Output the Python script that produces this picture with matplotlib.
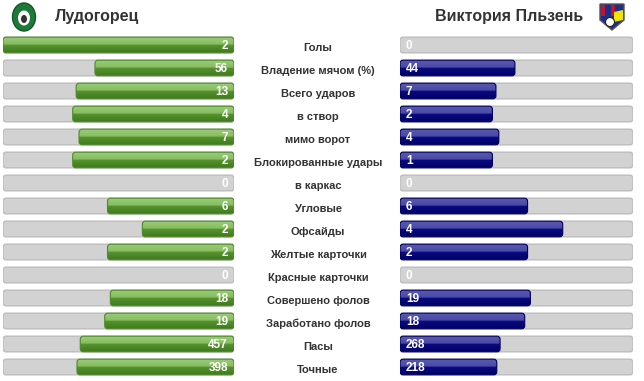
import numpy as np
import matplotlib
matplotlib.use("Agg")
import matplotlib.pyplot as plt
from matplotlib.patches import FancyBboxPatch, Ellipse, Polygon
from matplotlib.colors import LinearSegmentedColormap

plt.rcParams['font.family'] = ['Liberation Sans', 'DejaVu Sans']

home_team = "Лудогорец"
away_team = "Виктория Пльзень"

stats = ["Голы", "Владение мячом (%)", "Всего ударов", "в створ", "мимо ворот",
         "Блокированные удары", "в каркас", "Угловые", "Офсайды", "Желтые карточки",
         "Красные карточки", "Совершено фолов", "Заработано фолов", "Пасы", "Точные"]
home = [2, 56, 13, 4, 7, 2, 0, 6, 2, 2, 0, 18, 19, 457, 398]
away = [0, 44, 7, 2, 4, 1, 0, 6, 4, 2, 0, 19, 18, 268, 218]

W, H = 644, 381
ROW_PX = 23
FIRST_ROW = 45
BAR_H = 0.68
BASE = 0.095  # minimum visible share of a non-zero bar

green = LinearSegmentedColormap.from_list(
    "g", [(0, "#9ccb78"), (0.45, "#86bd5f"), (0.5, "#56922f"), (1, "#3f7a1c")])
blue = LinearSegmentedColormap.from_list(
    "b", [(0, "#5a5ab4"), (0.45, "#4a4aa6"), (0.5, "#0a0a80"), (1, "#000068")])

fig = plt.figure(figsize=(W / 100, H / 100), dpi=100)
fig.patch.set_facecolor("white")

n = len(stats)
top = (FIRST_ROW - ROW_PX / 2) / H
bot = (FIRST_ROW + (n - 0.5) * ROW_PX) / H
ax_h = bot - top


def side_axes(x0, x1, invert):
    ax = fig.add_axes([x0 / W, 1 - bot, (x1 - x0) / W, ax_h])
    ax.set_xlim(1, 0) if invert else ax.set_xlim(0, 1)
    ax.set_ylim(n - 0.5, -0.5)
    ax.axis("off")
    return ax


ax_l = side_axes(3, 234, True)
ax_r = side_axes(400, 633, False)


def rounded(ax, x, y, w, h, px_w, **kw):
    r = 3.0 / px_w
    ma = (3.0 / ROW_PX) / r
    p = FancyBboxPatch((x, y - h / 2), w, h,
                       boxstyle="round,pad=0,rounding_size=%f" % r,
                       mutation_aspect=ma, **kw)
    ax.add_patch(p)
    return p


grad = np.linspace(0, 1, 64).reshape(-1, 1)

for ax, vals, others, cmap, edge, px_w, left in [
        (ax_l, home, away, green, "#4c8a2a", 231, True),
        (ax_r, away, home, blue, "#00005a", 233, False)]:
    for i, (v, o) in enumerate(zip(vals, others)):
        rounded(ax, 0, i, 1, BAR_H, px_w, facecolor="#d2d2d2",
                edgecolor="#bdbdbd", linewidth=1.0, zorder=1)
        if v > 0:
            L = BASE + (1 - BASE) * v / (v + o)
            p = rounded(ax, 0, i, L, BAR_H, px_w, facecolor="none",
                        edgecolor=edge, linewidth=0.8, zorder=3)
            im = ax.imshow(grad, cmap=cmap, aspect="auto", zorder=2,
                           extent=(0, L, i + BAR_H / 2, i - BAR_H / 2))
            im.set_clip_path(p)
        tx = 6 / px_w
        ax.text(tx, i + 0.03, str(v), color="white", fontsize=8.5,
                fontweight="bold", ha="right" if left else "left",
                va="center", zorder=4)

# centre labels
ax_c = fig.add_axes([236 / W, 1 - bot, 164 / W, ax_h])
ax_c.set_xlim(0, 1)
ax_c.set_ylim(n - 0.5, -0.5)
ax_c.axis("off")
for i, s in enumerate(stats):
    ax_c.text(0.5, i + 0.12, s, ha="center", va="center", fontsize=8,
              fontweight="bold", color="#333333")

# header
fig.text(55 / W, 1 - 17 / H, home_team, fontsize=11.5, fontweight="bold",
         color="#333333", ha="left", va="center")
fig.text(583 / W, 1 - 17 / H, away_team, fontsize=11.5, fontweight="bold",
         color="#333333", ha="right", va="center")

# simple logo stand-ins
ax_logo = fig.add_axes([0, 0, 1, 1], zorder=-1)
ax_logo.set_xlim(0, W)
ax_logo.set_ylim(H, 0)
ax_logo.axis("off")
ax_logo.add_patch(Ellipse((24, 17), 23, 28, facecolor="#1f7a3a", edgecolor="#0f5a28"))
ax_logo.add_patch(Ellipse((24, 18), 12, 15, facecolor="white", edgecolor="none"))
ax_logo.add_patch(Ellipse((24, 19), 6, 8, facecolor="#333333", edgecolor="none"))
shield = [(600, 4), (624, 4), (624, 20), (612, 30), (600, 20)]
ax_logo.add_patch(Polygon(shield, closed=True, facecolor="#1c2f8c", edgecolor="#555555"))
for k, c in enumerate(["#c8102e", "#1c2f8c", "#c8102e", "#1c2f8c"]):
    ax_logo.add_patch(Polygon([(601 + 5 * k, 5), (605 + 5 * k, 5), (605 + 5 * k, 16), (601 + 5 * k, 16)],
                              closed=True, facecolor=c, edgecolor="none"))
ax_logo.add_patch(Polygon([(614, 12), (623, 10), (623, 20), (614, 22)], closed=True,
                          facecolor="#f2e600", edgecolor="none"))
ax_logo.add_patch(Ellipse((610, 22), 9, 9, facecolor="white", edgecolor="#222222", linewidth=0.8))

fig.savefig("out.png", dpi=100)
